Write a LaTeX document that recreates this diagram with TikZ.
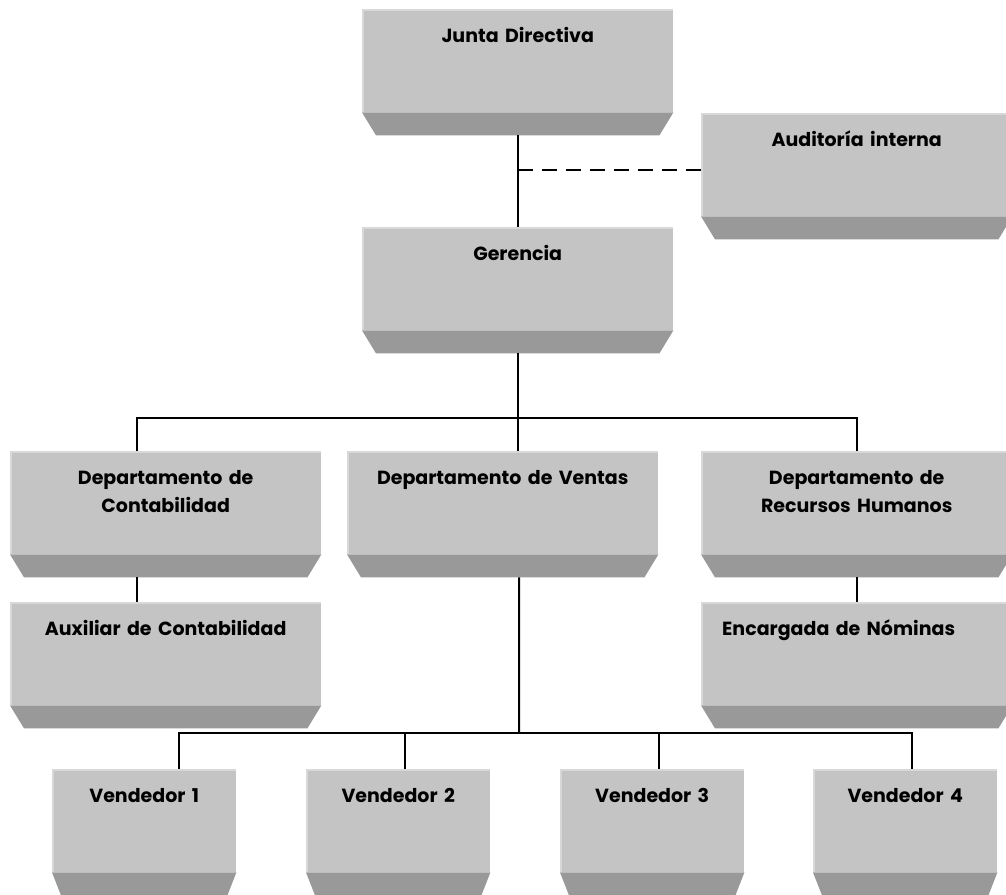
\documentclass[tikz,border=0pt]{standalone}
\usepackage{fontspec}
\setmainfont{Poppins}
\usetikzlibrary{calc}
\definecolor{boxlight}{HTML}{C4C4C4}
\definecolor{boxdark}{HTML}{999999}
\definecolor{boxhi}{HTML}{D8D8D8}
\newcommand\orgbevel[2]{%
  \fill[boxdark] (#1.south west) -- (#1.south east) -- ([xshift=-#2pt,yshift=-23pt]#1.south east) -- ([xshift=#2pt,yshift=-23pt]#1.south west) -- cycle;
  \fill[boxhi] (#1.north west) rectangle ([xshift=2pt]#1.south west);
  \fill[boxhi] (#1.north west) rectangle ([yshift=-1.5pt]#1.north east);}
\begin{document}
\begin{tikzpicture}[x=1pt,y=-1pt,
  orgbox/.style={rectangle, fill=boxlight, inner sep=0pt, anchor=north west,
    minimum height=103pt, text height=33pt, text depth=70pt, align=center,
    font=\bfseries\fontsize{19}{28}\selectfont},
  wide/.style={orgbox, minimum width=311pt, text width=305pt},
  narrow/.style={orgbox, minimum width=184pt, text width=180pt},
  link/.style={line width=2pt, black},
  dashlink/.style={line width=2pt, black, dash pattern=on 15pt off 9pt}]
\useasboundingbox (0,0) rectangle (1006,894);

\node[wide] (junta) at (362,9) {Junta Directiva};
\node[wide] (aud) at (701,113) {Auditoría interna};
\node[wide] (ger) at (362,227) {Gerencia};
\node[wide] (conta) at (10,451) {Departamento de\\Contabilidad};
\node[wide] (ventas) at (347,451) {Departamento de Ventas};
\node[wide] (rrhh) at (701,451) {Departamento de\\Recursos Humanos};
\node[wide] (aux) at (10,602) {Auxiliar de Contabilidad};
\node[wide, align=left] (enc) at (701,602) {\hspace*{18pt}Encargada de Nóminas};
\node[narrow] (v1) at (52,769) {Vendedor 1};
\node[narrow] (v2) at (306,769) {Vendedor 2};
\node[narrow] (v3) at (560,769) {Vendedor 3};
\node[narrow] (v4) at (813,769) {Vendedor 4};

\foreach \n in {junta,aud,ger,conta,ventas,rrhh,aux,enc}{\orgbevel{\n}{14}}
\foreach \n in {v1,v2,v3,v4}{\orgbevel{\n}{9}}

% Junta -> Gerencia
\draw[link] ([yshift=-23pt]junta.south) -- (ger.north);
\coordinate (dj) at (517.5,170);
\draw[dashlink] (dj) -- (dj -| aud.west);

% Gerencia -> departments
\coordinate (bus1) at (517.5,418);
\draw[link] ([yshift=-23pt]ger.south) -- (ger.south |- bus1);
\draw[link] ([xshift=-28.5pt]conta.north) |- (bus1) -| (rrhh.north);
\draw[link] ([xshift=15pt]ventas.north) -- ([xshift=15pt]ventas.north |- bus1);

% Department -> assistant
\draw[link] ([xshift=-28.5pt,yshift=-23pt]conta.south) -- ([xshift=-28.5pt]aux.north);
\draw[link] ([yshift=-23pt]rrhh.south) -- (enc.north);

% Ventas -> vendedores
\coordinate (bus2) at (519,733);
\draw[link] ([xshift=16.5pt,yshift=-23pt]ventas.south) -- (bus2);
\draw[link] ([xshift=35pt]v1.north) |- (bus2) -| ([xshift=7pt]v4.north);
\draw[link] ([xshift=7pt]v2.north) -- ([xshift=7pt]v2.north |- bus2);
\draw[link] ([xshift=7pt]v3.north) -- ([xshift=7pt]v3.north |- bus2);
\end{tikzpicture}
\end{document}
